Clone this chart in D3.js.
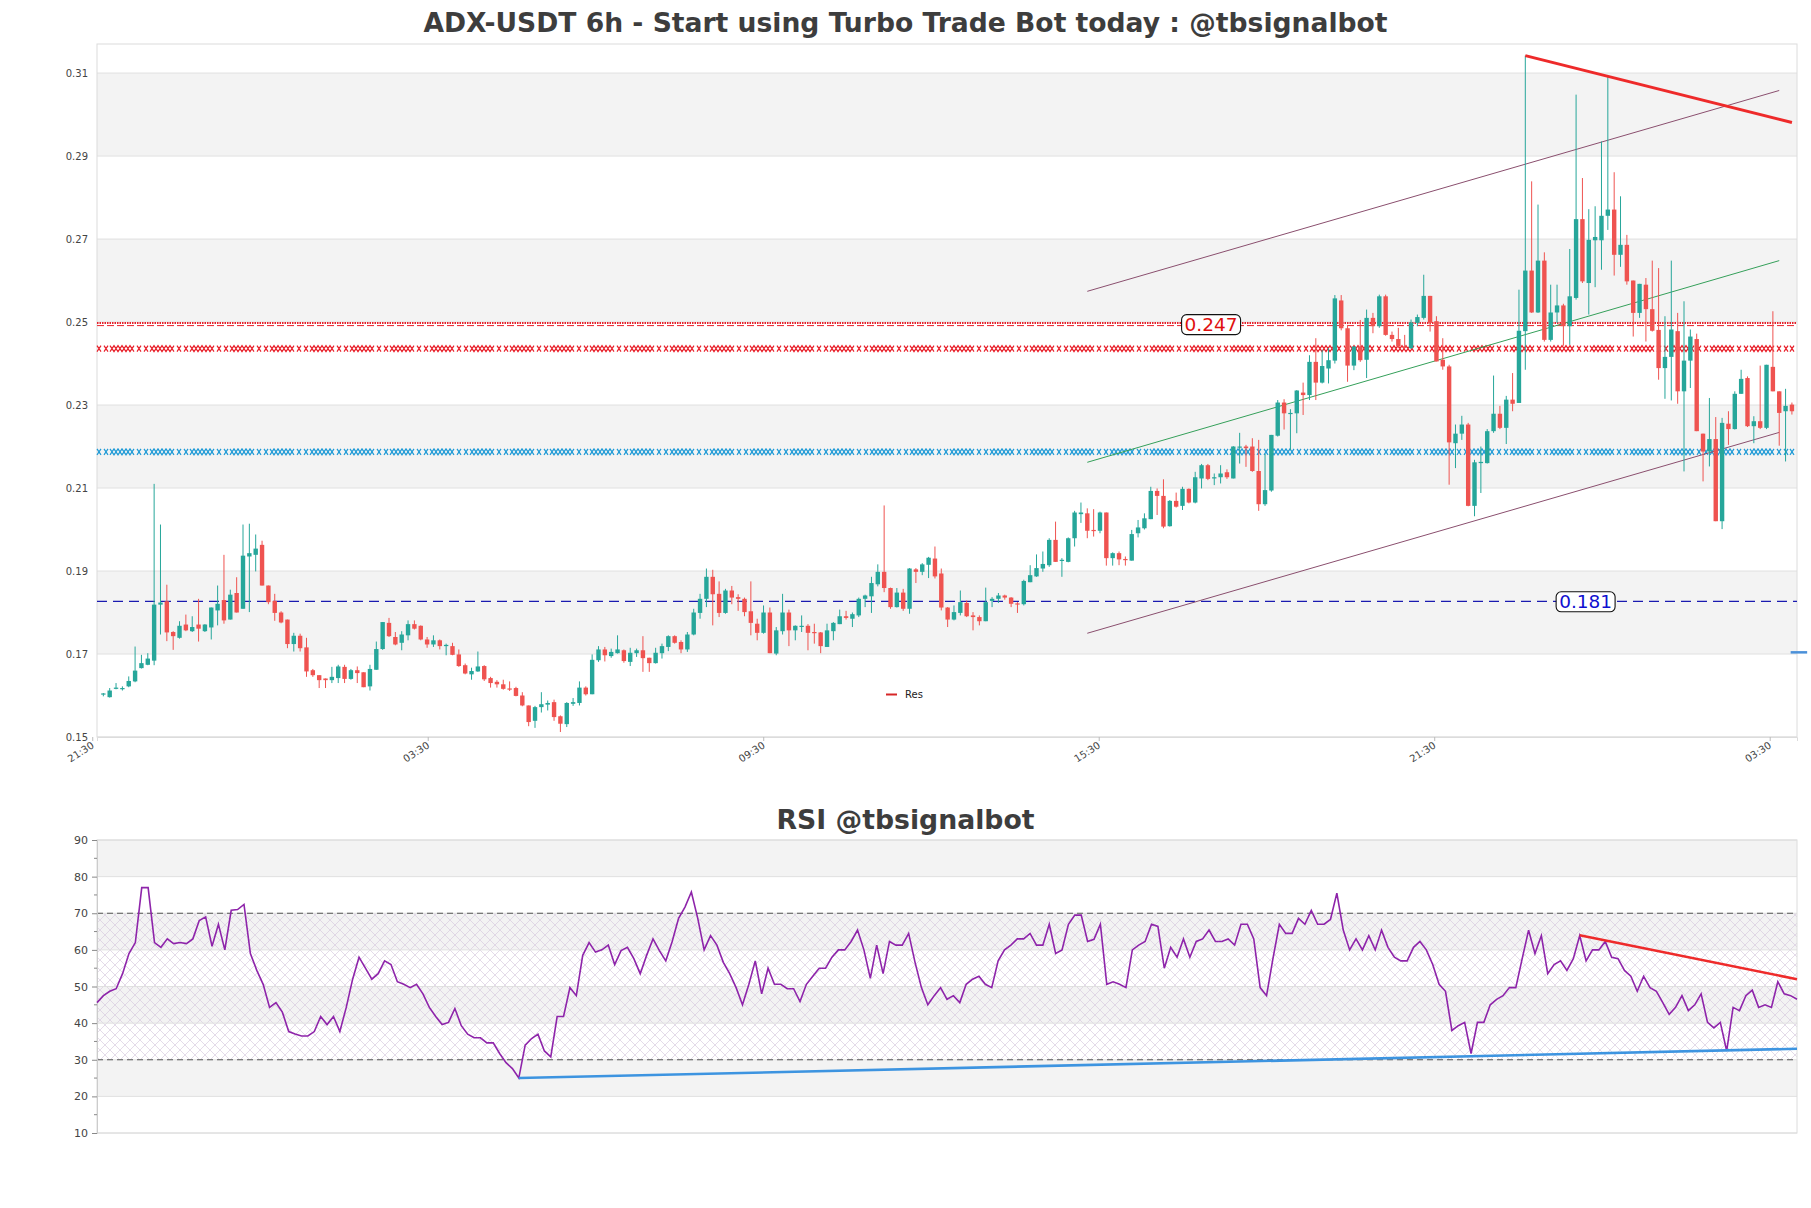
<!DOCTYPE html>
<html><head><meta charset="utf-8">
<script src="https://cdn.jsdelivr.net/npm/d3@7"></script>
<style>body{margin:0;background:#fff;} svg{display:block;font-family:"DejaVu Sans",sans-serif;}</style>
</head><body><svg id="c" width="1811" height="1208"></svg>
<script>
const title = "ADX-USDT 6h - Start using Turbo Trade Bot today : @tbsignalbot";
const rsiTitle = "RSI @tbsignalbot";
// [open, high, low, close]
const ohlc = [
[.1603,.1606,.1598,.1605],[.1596,.1618,.1595,.1612],[.1616,.1630,.1615,.1619],[.1617,.1622,.1612,.1618],[.1622,.1646,.1620,.1635],
[.1634,.1718,.1632,.1660],[.1666,.1698,.1665,.1678],[.1674,.1702,.1673,.1689],[.1684,.2110,.1673,.1819],[.1819,.2012,.1747,.1824],
[.1827,.1867,.1731,.1752],[.1753,.1755,.1710,.1743],[.1739,.1779,.1737,.1768],[.1771,.1795,.1755,.1757],[.1755,.1791,.1753,.1765],
[.1771,.1833,.1730,.1761],[.1755,.1772,.1753,.1771],[.1764,.1812,.1735,.1812],[.1805,.1865,.1769,.1821],[.1830,.1939,.1773,.1781],
[.1783,.1855,.1783,.1843],[.1847,.1885,.1800,.1800],[.1809,.2012,.1809,.1937],[.1935,.2014,.1801,.1943],[.1939,.1988,.1899,.1954],
[.1963,.1973,.1865,.1865],[.1865,.1865,.1820,.1825],[.1828,.1845,.1780,.1799],[.1800,.1803,.1774,.1776],[.1783,.1783,.1714,.1724],
[.1724,.1751,.1706,.1744],[.1744,.1749,.1706,.1714],[.1716,.1739,.1645,.1658],[.1661,.1664,.1645,.1649],[.1649,.1649,.1618,.1637],
[.1641,.1641,.1618,.1637],[.1637,.1669,.1630,.1645],[.1642,.1674,.1630,.1670],[.1669,.1674,.1630,.1640],[.1640,.1664,.1638,.1661],
[.1661,.1670,.1630,.1654],[.1656,.1656,.1620,.1620],[.1622,.1674,.1612,.1664],[.1662,.1730,.1662,.1712],[.1712,.1777,.1710,.1777],
[.1775,.1787,.1741,.1743],[.1741,.1753,.1721,.1723],[.1727,.1755,.1709,.1747],[.1745,.1781,.1733,.1772],[.1772,.1781,.1759,.1761],
[.1768,.1769,.1733,.1735],[.1735,.1741,.1715,.1723],[.1723,.1745,.1717,.1733],[.1733,.1735,.1711,.1719],[.1719,.1725,.1697,.1722],
[.1719,.1727,.1697,.1698],[.1699,.1711,.1669,.1671],[.1673,.1677,.1651,.1653],[.1651,.1667,.1638,.1659],[.1658,.1706,.1657,.1670],
[.1671,.1673,.1635,.1639],[.1642,.1645,.1619,.1630],[.1633,.1637,.1619,.1627],[.1627,.1638,.1614,.1616],[.1617,.1634,.1611,.1616],
[.1618,.1621,.1598,.1599],[.1600,.1608,.1574,.1576],[.1576,.1576,.1526,.1536],[.1539,.1575,.1522,.1572],[.1572,.1608,.1559,.1579],
[.1578,.1588,.1564,.1582],[.1584,.1590,.1539,.1548],[.1550,.1552,.1512,.1532],[.1531,.1584,.1524,.1582],[.1580,.1594,.1575,.1584],
[.1582,.1634,.1576,.1619],[.1619,.1622,.1600,.1603],[.1603,.1699,.1603,.1686],[.1685,.1719,.1681,.1711],[.1711,.1717,.1682,.1697],
[.1695,.1713,.1691,.1705],[.1702,.1745,.1701,.1711],[.1709,.1711,.1679,.1683],[.1681,.1715,.1671,.1703],[.1702,.1713,.1693,.1709],
[.1709,.1743,.1657,.1690],[.1691,.1691,.1657,.1678],[.1678,.1715,.1677,.1703],[.1702,.1725,.1689,.1719],[.1717,.1745,.1707,.1743],
[.1743,.1745,.1725,.1727],[.1729,.1733,.1702,.1711],[.1711,.1753,.1705,.1747],[.1747,.1809,.1745,.1800],[.1799,.1845,.1785,.1833],
[.1833,.1906,.1813,.1886],[.1886,.1903,.1769,.1844],[.1845,.1875,.1789,.1799],[.1799,.1857,.1797,.1853],[.1853,.1864,.1820,.1836],
[.1837,.1844,.1804,.1833],[.1833,.1836,.1791,.1801],[.1803,.1875,.1745,.1775],[.1773,.1785,.1733,.1751],[.1751,.1817,.1749,.1800],
[.1800,.1812,.1702,.1702],[.1701,.1765,.1697,.1757],[.1755,.1845,.1747,.1800],[.1800,.1807,.1719,.1757],[.1757,.1769,.1733,.1768],
[.1767,.1793,.1753,.1768],[.1768,.1772,.1709,.1751],[.1753,.1773,.1725,.1751],[.1752,.1753,.1702,.1719],[.1717,.1773,.1717,.1757],
[.1755,.1777,.1733,.1775],[.1772,.1807,.1772,.1791],[.1791,.1804,.1783,.1787],[.1785,.1800,.1765,.1796],[.1793,.1836,.1789,.1833],
[.1833,.1843,.1813,.1841],[.1839,.1886,.1799,.1871],[.1868,.1916,.1863,.1898],[.1898,.2058,.1849,.1859],[.1859,.1860,.1809,.1813],
[.1813,.1859,.1812,.1848],[.1848,.1857,.1804,.1809],[.1809,.1907,.1797,.1906],[.1904,.1907,.1871,.1898],[.1898,.1919,.1890,.1916],
[.1915,.1934,.1883,.1932],[.1930,.1959,.1882,.1887],[.1894,.1906,.1805,.1812],[.1812,.1813,.1765,.1783],[.1783,.1817,.1781,.1801],
[.1799,.1853,.1793,.1825],[.1823,.1829,.1789,.1791],[.1793,.1801,.1757,.1789],[.1789,.1793,.1769,.1779],[.1779,.1860,.1779,.1825],
[.1828,.1837,.1813,.1833],[.1833,.1847,.1823,.1841],[.1841,.1843,.1831,.1836],[.1836,.1837,.1813,.1821],[.1822,.1825,.1799,.1820],
[.1820,.1879,.1817,.1876],[.1873,.1914,.1873,.1890],[.1887,.1940,.1886,.1907],[.1906,.1947,.1898,.1917],[.1914,.1979,.1910,.1975],
[.1975,.2019,.1922,.1922],[.1926,.1931,.1886,.1927],[.1922,.1981,.1921,.1979],[.1979,.2045,.1959,.2041],[.2037,.2065,.2016,.2041],
[.2039,.2051,.1979,.1997],[.1999,.2049,.1983,.1998],[.1997,.2043,.1991,.2041],[.2041,.2041,.1913,.1931],[.1931,.1945,.1913,.1943],
[.1943,.1947,.1914,.1928],[.1929,.1935,.1913,.1927],[.1925,.1999,.1925,.1989],[.1991,.2023,.1981,.2005],[.2003,.2039,.2000,.2027],
[.2025,.2103,.2025,.2093],[.2093,.2099,.2035,.2081],[.2081,.2121,.2003,.2007],[.2008,.2071,.2007,.2069],[.2069,.2089,.2053,.2055],
[.2057,.2103,.2047,.2098],[.2098,.2099,.2063,.2065],[.2065,.2139,.2063,.2126],[.2123,.2158,.2099,.2155],[.2155,.2158,.2119,.2122],
[.2123,.2135,.2107,.2126],[.2126,.2155,.2111,.2135],[.2138,.2145,.2122,.2126],[.2123,.2201,.2123,.2200],[.2198,.2233,.2159,.2200],
[.2200,.2204,.2151,.2196],[.2200,.2220,.2139,.2141],[.2141,.2216,.2045,.2061],[.2061,.2182,.2057,.2095],[.2094,.2228,.2091,.2228],
[.2226,.2312,.2224,.2306],[.2306,.2314,.2241,.2280],[.2279,.2290,.2192,.2281],[.2280,.2336,.2232,.2335],[.2330,.2354,.2276,.2324],
[.2324,.2420,.2312,.2404],[.2404,.2461,.2312,.2354],[.2354,.2433,.2352,.2394],[.2388,.2437,.2352,.2408],[.2407,.2565,.2400,.2557],
[.2552,.2565,.2480,.2485],[.2485,.2493,.2356,.2395],[.2395,.2441,.2384,.2441],[.2441,.2505,.2404,.2408],[.2409,.2530,.2365,.2510],
[.2510,.2522,.2473,.2490],[.2490,.2566,.2486,.2562],[.2562,.2566,.2467,.2469],[.2469,.2477,.2453,.2459],[.2459,.2486,.2437,.2441],
[.2441,.2469,.2437,.2440],[.2437,.2506,.2435,.2499],[.2498,.2518,.2490,.2512],[.2510,.2614,.2506,.2563],[.2563,.2563,.2477,.2498],
[.2502,.2514,.2405,.2405],[.2409,.2461,.2385,.2393],[.2393,.2397,.2108,.2210],[.2208,.2253,.2148,.2231],[.2231,.2274,.2216,.2253],
[.2253,.2257,.2056,.2057],[.2057,.2168,.2032,.2162],[.2160,.2200,.2088,.2163],[.2160,.2242,.2159,.2237],[.2237,.2371,.2233,.2279],
[.2279,.2298,.2242,.2245],[.2245,.2322,.2206,.2313],[.2313,.2377,.2285,.2303],[.2305,.2578,.2305,.2479],[.2478,.3142,.2385,.2624],
[.2624,.2839,.2522,.2523],[.2523,.2783,.2522,.2648],[.2648,.2668,.2453,.2457],[.2457,.2590,.2453,.2523],[.2523,.2590,.2498,.2540],
[.2540,.2544,.2443,.2490],[.2490,.2676,.2445,.2562],[.2558,.3048,.2554,.2748],[.2748,.2847,.2594,.2598],[.2594,.2772,.2518,.2698],
[.2697,.2779,.2584,.2705],[.2697,.2935,.2626,.2756],[.2756,.3092,.2722,.2771],[.2771,.2861,.2612,.2662],[.2662,.2803,.2633,.2686],
[.2686,.2710,.2590,.2598],[.2600,.2600,.2465,.2522],[.2522,.2592,.2510,.2592],[.2590,.2606,.2453,.2531],[.2531,.2648,.2477,.2479],
[.2481,.2630,.2361,.2389],[.2389,.2514,.2315,.2416],[.2416,.2648,.2311,.2482],[.2478,.2522,.2303,.2333],[.2333,.2550,.2140,.2407],
[.2407,.2482,.2341,.2465],[.2459,.2472,.2237,.2237],[.2231,.2231,.2116,.2188],[.2188,.2317,.2152,.2218],[.2218,.2271,.2020,.2020],
[.2020,.2269,.2001,.2257],[.2255,.2285,.2204,.2242],[.2242,.2333,.2241,.2327],[.2327,.2385,.2327,.2363],[.2365,.2369,.2247,.2249],
[.2249,.2273,.2208,.2261],[.2261,.2395,.2242,.2245],[.2245,.2397,.2242,.2397],[.2392,.2526,.2333,.2333],[.2333,.2333,.2202,.2281],
[.2285,.2339,.2164,.2298],[.2301,.2306,.2277,.2285]
];
const rsi = [45.6,47.5,48.7,49.4,53.5,59,62,77,77,62, 60.7,63,61.7,62,61.7,63,68,69,61,67,
 60,70.8,71,72.4,59,54.4,50.6,44.3,45.6,43, 37.7,37,36.5,36.5,37.7,41.8,39.6,41.8,37.7,44.3,
 52,58,55,52,53.5,57,56,51.3,50.6,49.7, 50.6,48,44.3,41.8,39.6,40.2,44,39.3,37,36,
 36,34.6,34.6,31.7,29.2,27.6,25, 34,35.8,37,32.4,30.8,41.8,41.8,49.7,47.5,
 58.5,62,59.4,60,61.3,56,59.8,60.7,57.6,53.5, 58.5,63,59.8,57,62.3,68.6,71.7,75.8,68.6,60,
 63.9,61.3,56.6,53.5,49.7,45,50.6,57,48,55, 50.6,50.6,49.4,49.4,45.9,50.6,52.8,55,55,58,
 60,60,62.3,65.4,60,52.2,61.3,53.5,62.3,61.3, 61.3,64.5,56.6,49.7,45,47.5,49.7,46.5,47.5,45.6,
 50.6,52,52.8,50.6,49.7,57,60,61.3,63,63, 64.5,61.3,61.3,67,59,60,67,69.5,69.5,62.3,
 62.9,67,50.6,51.3,50.6,49.7,60,61.3,62.3,67, 66.4,55,60.7,58,63,58,62.3,63,65.4,62.3,
 62.3,63,61.3,67,67,63,49.7,47.5,57.6,67, 64.5,64.5,68.6,67,70.8,67,67,68.3,75.5,65.4,
 60,63,60,63.9,60,65.4,60.7,58,57,57, 60.7,62.3,60,56,50.6,48.7,38,39.3,40.2,31.7,
 40.2,40.2,45,46.5,47.5,49.7,49.7,57.6,65.4,59, 63.9,53.5,56,57,54.4,57.6,63.9,57,60,60,
 62.3,58,57.6,54.4,52.8,48.7,52.8,49.7,48.7,45.6, 42.4,44.3,47.5,43.4,45,48,40.2,38.7,40.2,32.4,
 44.3,43.4,47.5,49,44.3,45,44.3,51.3,48,47.5, 46.5];

const xTickIdx = [-1.75, 51.1, 103.95, 156.8, 209.65, 262.5];
const xTickLabels = ["21:30","03:30","09:30","15:30","21:30","03:30"];
const priceTicks = [0.15,0.17,0.19,0.21,0.23,0.25,0.27,0.29,0.31];
const priceBands = [[0.17,0.19],[0.21,0.23],[0.25,0.27],[0.29,0.31]];
const rsiTicks = [10,20,30,40,50,60,70,80,90];
const rsiBands = [[20,30],[40,50],[60,70],[80,90]];
const rsiZone = [30,70];

const resLevel = 0.2495, resLabel = "0.247", resLabelIdx = 174.5;
const resXLevel = 0.2436;
const supXLevel = 0.2187;
const supLevel = 0.1827, supLabel = "0.181", supLabelIdx = 233.5;
const channelIdx = [155, 264];
const channelUpper = [0.2574, 0.3058];
const channelMid = [0.2162, 0.2648];
const channelLower = [0.1750, 0.2234];
const resTrendIdx = [224, 266], resTrendVal = [0.3142, 0.2981];
const stubIdx = [265.8, 268.4], stubVal = [0.1704, 0.1704];
const rsiSupIdx = [66, 266], rsiSupVal = [25, 33];
const rsiResIdx = [232, 266], rsiResVal = [64, 52];
const legendLabel = "Res";

const svg = d3.select("#c");
const M = {l:97, r:1797, t:44, b:737};
const R = {l:97, r:1797, t:840, b:1133};
const x = d3.scaleLinear().domain([-1, 266.8]).range([M.l, M.r]);
const y = d3.scaleLinear().domain([0.15, 0.317]).range([M.b, M.t]);
const xr = d3.scaleLinear().domain([0, rsi.length-1]).range([R.l, R.r]);
const yr = d3.scaleLinear().domain([10, 90]).range([R.b, R.t]);

svg.append("rect").attr("width",1811).attr("height",1208).attr("fill","#fff");

// titles
svg.append("text").attr("x",905.5).attr("y",32).attr("text-anchor","middle")
  .attr("font-size",26.6).attr("font-weight","bold").attr("fill","#3d3d3d").text(title);
svg.append("text").attr("x",905.5).attr("y",829).attr("text-anchor","middle")
  .attr("font-size",26.7).attr("font-weight","bold").attr("fill","#3d3d3d").text(rsiTitle);

// ---- main panel
const g = svg.append("g");
g.selectAll(".band").data(priceBands).join("rect")
  .attr("x",M.l).attr("width",M.r-M.l).attr("y",d=>y(d[1])).attr("height",d=>y(d[0])-y(d[1]))
  .attr("fill","#f3f3f3");
g.selectAll(".grid").data(priceTicks).join("line")
  .attr("x1",M.l).attr("x2",M.r).attr("y1",d=>y(d)).attr("y2",d=>y(d)).attr("stroke","#e0e0e0");
g.append("rect").attr("x",M.l).attr("y",M.t).attr("width",M.r-M.l).attr("height",M.b-M.t)
  .attr("fill","none").attr("stroke","#dcdcdc");

// y axis
const ya = d3.axisLeft(y).tickValues(priceTicks).tickFormat(d3.format(".2f")).tickSize(0).tickPadding(9);
const yag = g.append("g").attr("transform",`translate(${M.l},0)`).call(ya);
yag.select(".domain").remove();
yag.selectAll("text").attr("font-size",10).attr("fill","#444").attr("font-family","DejaVu Sans");

// x axis
const xa = d3.axisBottom(x).tickValues(xTickIdx).tickFormat((d,i)=>xTickLabels[i]).tickSize(4);
const xag = g.append("g").attr("transform",`translate(0,${M.b})`).call(xa);
xag.select(".domain").attr("stroke","#dcdcdc");
xag.selectAll(".tick line").attr("stroke","#bbb");
xag.selectAll("text").attr("font-size",10).attr("fill","#444").attr("font-family","DejaVu Sans")
  .attr("text-anchor","end").attr("dy",0).attr("y",0)
  .attr("transform","translate(2,10) rotate(-33)");

// x-chain helper: interlaced double line with crossings
function xChain(level, color){
  const yy = y(level), a = 3, period = 40, hp = 4;
  const pieces = [[0,4],[7,11],[13,37]];
  let d = "";
  for (let base = M.l; base < M.r; base += period) {
    pieces.forEach(([s,e])=>{
      const x0 = base + s, x1 = Math.min(base + e, M.r);
      if (x0 >= M.r) return;
      let p1 = "M"+x0+","+(yy-a), p2 = "M"+x0+","+(yy+a);
      let k = 1;
      for (let xx = x0 + hp; xx <= x1 + 0.01; xx += hp, k++) {
        const s1 = (k % 2 === 0) ? -a : a;
        p1 += "L"+xx+","+(yy+s1);
        p2 += "L"+xx+","+(yy-s1);
      }
      d += p1 + p2;
    });
  }
  g.append("path").attr("d", d).attr("fill","none").attr("stroke",color).attr("stroke-width",1.2);
}
// resistance dotted
g.append("line").attr("x1",M.l).attr("x2",M.r).attr("y1",y(resLevel)-1).attr("y2",y(resLevel)-1)
  .attr("stroke","#e8202a").attr("stroke-width",2).attr("stroke-dasharray","1.5,1");
g.append("line").attr("x1",M.l).attr("x2",M.r).attr("y1",y(resLevel)+1.5).attr("y2",y(resLevel)+1.5)
  .attr("stroke","#e8202a").attr("stroke-width",1).attr("stroke-dasharray","7,3");
xChain(resXLevel, "#e8202a");
xChain(supXLevel, "#1e9ad6");
g.append("line").attr("x1",M.l).attr("x2",M.r).attr("y1",y(supLevel)).attr("y2",y(supLevel))
  .attr("stroke","#1a1ab0").attr("stroke-width",1.3).attr("stroke-dasharray","10,6");

// channel lines
const lineG = d3.line().x(d=>x(d[0])).y(d=>y(d[1]));
g.append("path").attr("d",lineG([[channelIdx[0],channelUpper[0]],[channelIdx[1],channelUpper[1]]]))
  .attr("stroke","#8a4f6e").attr("stroke-width",1).attr("fill","none");
g.append("path").attr("d",lineG([[channelIdx[0],channelLower[0]],[channelIdx[1],channelLower[1]]]))
  .attr("stroke","#8a4f6e").attr("stroke-width",1).attr("fill","none");
g.append("path").attr("d",lineG([[channelIdx[0],channelMid[0]],[channelIdx[1],channelMid[1]]]))
  .attr("stroke","#35a05a").attr("stroke-width",1).attr("fill","none");

// candles
const up = "#26a69a", dn = "#ef5350";
const cg = g.append("g");
const bw = 4.4;
ohlc.forEach((d,i)=>{
  const [o,h,l,c] = d;
  const col = c >= o ? up : dn;
  const cx = x(i);
  cg.append("line").attr("x1",cx).attr("x2",cx).attr("y1",y(h)).attr("y2",y(l))
    .attr("stroke",col).attr("stroke-width",1);
  const top = y(Math.max(o,c)), bot = y(Math.min(o,c));
  cg.append("rect").attr("x",cx-bw/2).attr("width",bw).attr("y",top).attr("height",Math.max(1.2,bot-top))
    .attr("fill",col);
});

// red trend line
g.append("path").attr("d",lineG([[resTrendIdx[0],resTrendVal[0]],[resTrendIdx[1],resTrendVal[1]]]))
  .attr("stroke","#ee2a2a").attr("stroke-width",3).attr("fill","none");
// blue stub
g.append("path").attr("d",lineG([[stubIdx[0],stubVal[0]],[stubIdx[1],stubVal[1]]]))
  .attr("stroke","#4a90d9").attr("stroke-width",2.5).attr("fill","none");

// level labels
function levelLabel(idx, level, txt, color){
  const t = g.append("text").attr("x",x(idx)).attr("y",y(level)+6.5).attr("text-anchor","middle")
    .attr("font-size",18.5).attr("fill",color).text(txt);
  const bb = t.node().getBBox();
  g.insert("rect", () => t.node()).attr("x",bb.x-3).attr("y",bb.y+1).attr("width",bb.width+6).attr("height",bb.height-1)
    .attr("rx",5).attr("fill","#fff").attr("stroke","#111").attr("stroke-width",1.1);
}
levelLabel(resLabelIdx, resLevel, resLabel, "#e01010");
levelLabel(supLabelIdx, supLevel, supLabel, "#1010d0");

// legend
g.append("line").attr("x1",886).attr("x2",897).attr("y1",694.5).attr("y2",694.5).attr("stroke","#d62728").attr("stroke-width",2);
g.append("text").attr("x",905).attr("y",698).attr("font-size",10).attr("fill","#222").text(legendLabel);

// ---- RSI panel
const r = svg.append("g");
const defs = svg.append("defs");
const pat = defs.append("pattern").attr("id","hatch").attr("patternUnits","userSpaceOnUse")
  .attr("width",10).attr("height",10);
pat.append("path").attr("d","M0,0L10,10M10,0L0,10").attr("stroke","#d9cbe0").attr("stroke-width",0.7);
r.selectAll(".band").data(rsiBands).join("rect")
  .attr("x",R.l).attr("width",R.r-R.l).attr("y",d=>yr(d[1])).attr("height",d=>yr(d[0])-yr(d[1]))
  .attr("fill","#f3f3f3");
r.append("rect").attr("x",R.l).attr("width",R.r-R.l).attr("y",yr(rsiZone[1])).attr("height",yr(rsiZone[0])-yr(rsiZone[1]))
  .attr("fill","url(#hatch)");
r.selectAll(".grid").data(rsiTicks).join("line")
  .attr("x1",R.l).attr("x2",R.r).attr("y1",d=>yr(d)).attr("y2",d=>yr(d)).attr("stroke","#e0e0e0");
r.selectAll(".zl").data(rsiZone).join("line")
  .attr("x1",R.l).attr("x2",R.r).attr("y1",d=>yr(d)).attr("y2",d=>yr(d))
  .attr("stroke","#555").attr("stroke-width",1).attr("stroke-dasharray","6,4");
r.append("rect").attr("x",R.l).attr("y",R.t).attr("width",R.r-R.l).attr("height",R.b-R.t)
  .attr("fill","none").attr("stroke","#dcdcdc");
const ra = d3.axisLeft(yr).tickValues(rsiTicks).tickSize(5).tickPadding(4);
const rag = r.append("g").attr("transform",`translate(${R.l},0)`).call(ra);
rag.select(".domain").attr("stroke","#ccc");
rag.selectAll(".tick line").attr("stroke","#888");
rag.selectAll("text").attr("font-size",11).attr("fill","#444").attr("font-family","DejaVu Sans");
const minor = d3.range(15, 90, 10);
r.selectAll(".mt").data(minor).join("line").attr("x1",R.l-3).attr("x2",R.l).attr("y1",d=>yr(d)).attr("y2",d=>yr(d))
  .attr("stroke","#888");

const rl = d3.line().x((d,i)=>xr(i)).y(d=>yr(d));
r.append("path").attr("d",rl(rsi)).attr("fill","none").attr("stroke","#8e24aa").attr("stroke-width",1.6);
const rl2 = d3.line().x(d=>xr(d[0])).y(d=>yr(d[1]));
r.append("path").attr("d",rl2([[rsiSupIdx[0],rsiSupVal[0]],[rsiSupIdx[1],rsiSupVal[1]]]))
  .attr("stroke","#3d94e0").attr("stroke-width",2.6).attr("fill","none");
r.append("path").attr("d",rl2([[rsiResIdx[0],rsiResVal[0]],[rsiResIdx[1],rsiResVal[1]]]))
  .attr("stroke","#ee2a2a").attr("stroke-width",2.6).attr("fill","none");
</script></body></html>
